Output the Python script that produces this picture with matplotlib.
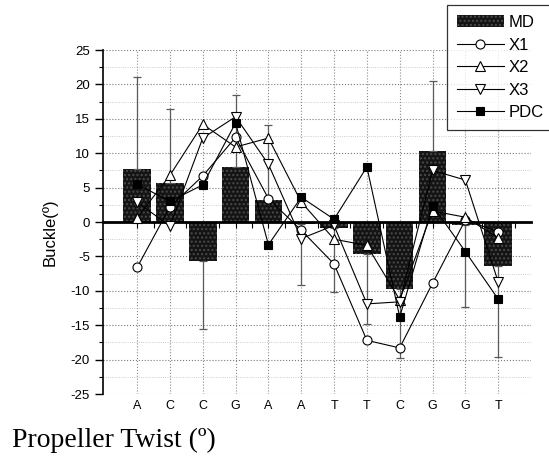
import numpy as np
import matplotlib
matplotlib.use("Agg")
import matplotlib.pyplot as plt
from matplotlib.ticker import MultipleLocator

# base-step sequence along the x axis
bases = ["A", "C", "C", "G", "A", "A", "T", "T", "C", "G", "G", "T"]

# MD mean buckle with one-sided spread
md = [7.7, 5.7, -5.6, 8.0, 3.2, -0.3, -0.9, -4.7, -9.8, 10.3, -0.4, -6.4]
md_err = [13.4, 10.7, 9.9, 10.5, 10.9, 8.9, 9.2, 10.1, 10.0, 10.2, 11.9, 13.2]

x1 = [-6.6, 2.2, 6.7, 12.3, 3.4, -1.2, -6.1, -17.2, -18.3, -8.9, 0.3, -1.4]
x2 = [0.6, 6.8, 14.2, 10.9, 12.2, 2.9, -2.5, -3.4, -11.3, 1.6, 0.7, -2.3]
x3 = [2.9, -0.6, 12.2, 15.3, 8.4, -2.4, -0.5, -11.9, -11.6, 7.5, 6.1, -8.7]
pdc = [5.5, 3.0, 5.4, 14.4, -3.3, 3.6, 0.4, 8.0, -13.8, 2.4, -4.3, -11.2]

plt.rcParams['font.family'] = ['Liberation Sans', 'DejaVu Sans']
plt.rcParams['axes.unicode_minus'] = False

fig = plt.figure(figsize=(5.49, 4.61), dpi=100)
ax = fig.add_axes([0.1876, 0.1453, 0.7796, 0.7462])

xs = np.arange(len(bases))
md = np.array(md)
md_err = np.array(md_err)
# spread drawn only away from zero
lo = np.where(md < 0, md_err, 0)
hi = np.where(md >= 0, md_err, 0)

bars = ax.bar(xs, md, width=0.84, facecolor='#141414', edgecolor='#4a4a4a',
              hatch='....', linewidth=0, label='MD', zorder=2)
ax.errorbar(xs, md, yerr=[lo, hi], fmt='none', ecolor='#5a5a5a',
            elinewidth=0.9, capsize=3, capthick=0.9, zorder=3)

line_kw = dict(color='black', lw=0.8, markeredgewidth=0.8, zorder=4)
l1, = ax.plot(xs, x1, marker='o', ms=6.5, mfc='white', mec='black', label='X1', **line_kw)
l2, = ax.plot(xs, x2, marker='^', ms=7.5, mfc='white', mec='black', label='X2', **line_kw)
l3, = ax.plot(xs, x3, marker='v', ms=7.5, mfc='white', mec='black', label='X3', **line_kw)
l4, = ax.plot(xs, pdc, marker='s', ms=5.5, mfc='black', mec='black', label='PDC', **line_kw)

ax.set_xlim(-1.04, 12.0)
ax.set_ylim(-25, 25)

ax.spines['top'].set_visible(False)
ax.spines['right'].set_visible(False)
ax.spines['bottom'].set_position(('data', 0))
ax.spines['bottom'].set_linewidth(2.0)
ax.spines['left'].set_linewidth(1.2)

ax.set_xticks(xs)
ax.set_xticklabels(bases)
ax.set_xticks(xs + 0.5, minor=True)
ax.tick_params(axis='x', which='major', direction='out', length=4, width=0.8,
               pad=124, labelsize=9)
ax.tick_params(axis='x', which='minor', direction='out', length=4, width=0.8)

ax.yaxis.set_major_locator(MultipleLocator(5))
ax.yaxis.set_minor_locator(MultipleLocator(2.5))
ax.tick_params(axis='y', which='major', direction='out', length=6, width=1.0, labelsize=9.5)
ax.tick_params(axis='y', which='minor', direction='out', length=3, width=0.8)

ax.grid(True, axis='y', which='major', ls=':', color='#7a7a7a', lw=0.8, zorder=0)
ax.grid(True, axis='y', which='minor', ls=':', color='#bcbcbc', lw=0.6, zorder=0)
ax.grid(True, axis='x', which='major', ls=':', color='#8a8a8a', lw=0.8, zorder=0)
ax.set_axisbelow(True)

ax.set_ylabel("Buckle(º)", fontsize=12)
ax.yaxis.set_label_coords(-0.107, 0.47)

leg = fig.legend(handles=[bars, l1, l2, l3, l4], loc='upper left',
                 bbox_to_anchor=(0.814, 0.989), fontsize=12,
                 frameon=True, fancybox=False, handlelength=2.8, handletextpad=0.3,
                 labelspacing=0.45, borderpad=0.6, borderaxespad=0)
leg.get_frame().set_edgecolor('black')
leg.get_frame().set_linewidth(0.9)

fig.text(12 / 549, 21 / 461, "Propeller Twist (º)", family='Liberation Serif',
         fontsize=20, va='center', ha='left')

fig.savefig("out.png", dpi=100)
